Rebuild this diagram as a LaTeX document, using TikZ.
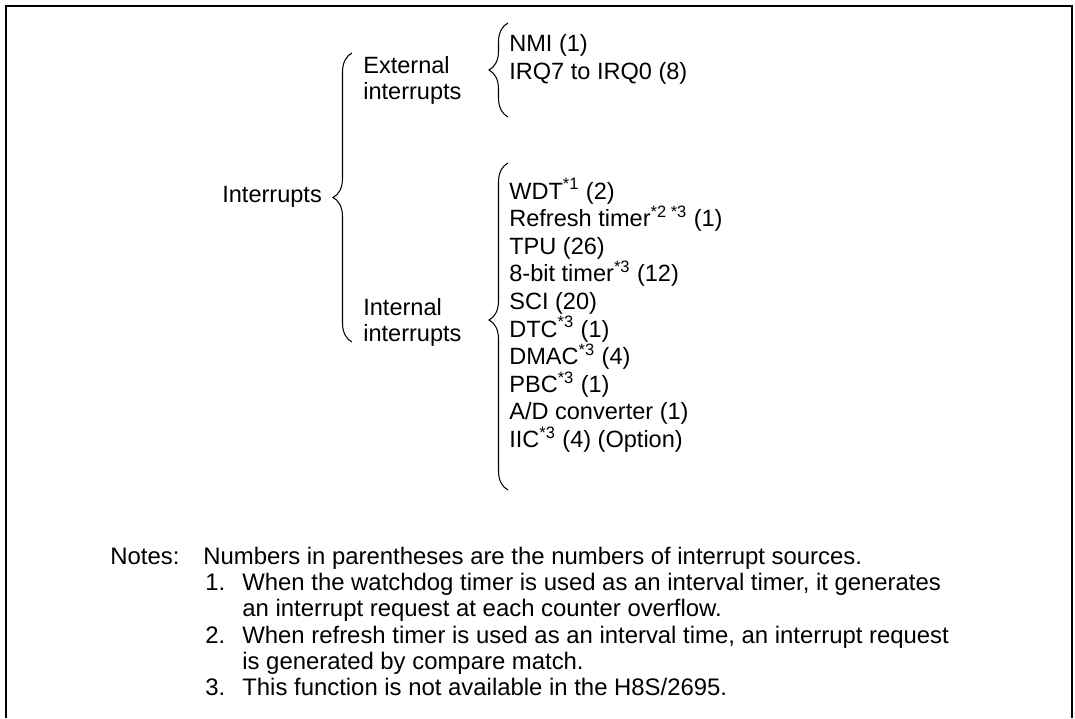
\documentclass[tikz,border=0pt]{standalone}
\usepackage{fontspec}
\setmainfont{Liberation Sans}
\usetikzlibrary{decorations.pathreplacing, positioning}

\begin{document}
\begin{tikzpicture}[
  x=0.02cm, y=-0.02cm,
  font=\fontsize{13.4}{14.9}\selectfont,
  lbl/.style={anchor=base west, inner sep=0pt},
  grp/.style={anchor=north west, align=left, inner sep=0pt},
  note/.style={font=\fontsize{13.6}{14.9}\selectfont},
  brc/.style={decorate, line width=0.6pt,
              decoration={brace, amplitude=0.38cm, aspect=#1}},
  brc/.default=0.5
]
\useasboundingbox (0,0) rectangle (1075,718);
\draw[line width=1.2pt] (6,718) |- (1072,6) -- (1072,718);

\node[lbl] (intr) at (222,202) {Interrupts};
\node[grp] (ext) at (363,56) {External\\interrupts};
\node[grp] (int) at (363,298) {Internal\\interrupts};
\node[lbl] (nmi) at (509,51) {NMI (1)};
\node[lbl] (irq) at (509,79) {IRQ7 to IRQ0 (8)};
\foreach \src [count=\i] in {WDT\textsuperscript{*1} (2),
    Refresh timer\textsuperscript{*2 *3} (1), TPU (26),
    8-bit timer\textsuperscript{*3} (12), SCI (20), DTC\textsuperscript{*3} (1),
    DMAC\textsuperscript{*3} (4), PBC\textsuperscript{*3} (1),
    A/D converter (1), IIC\textsuperscript{*3} (4) (Option)}
  \node[lbl] (src\i) at (509,{199+27.6*(\i-1)}) {\src};

\coordinate (topT) at (352,53);
\coordinate (topB) at (352,342);
\coordinate (extT) at (508,23);
\coordinate (extB) at (508,117);
\coordinate (intT) at (508,163);
\coordinate (intB) at (508,490);
\draw[brc] (topB) -- (topT);
\draw[brc] (extB) -- (extT);
\draw[brc=0.52] (intB) -- (intT);

\node[lbl, note] (notes) at (110,564) {Notes:};
\node[lbl, note] (note0) at (203,564)
     {Numbers in parentheses are the numbers of interrupt sources.};
\node[lbl, note] (num1) at (205,590) {1.};
\node[grp, note] (note1) at (242,573)
     {When the watchdog timer is used as an interval timer, it generates\\
      an interrupt request at each counter overflow.};
\node[lbl, note] (num2) at (205,643) {2.};
\node[grp, note] (note2) at (242,626)
     {When refresh timer is used as an interval time, an interrupt request\\
      is generated by compare match.};
\node[lbl, note] (num3) at (205,695) {3.};
\node[lbl, note] (note3) at (242,695) {This function is not available in the H8S/2695.};
\end{tikzpicture}
\end{document}
